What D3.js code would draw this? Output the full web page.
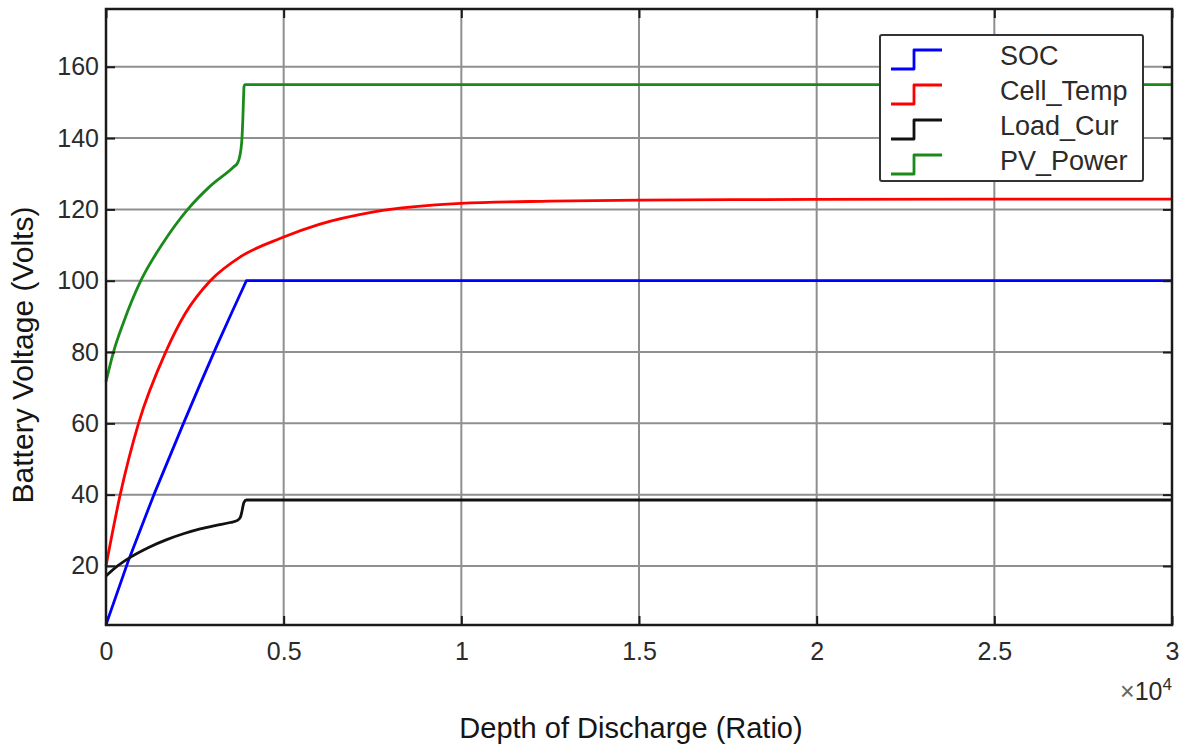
<!DOCTYPE html>
<html>
<head>
<meta charset="utf-8">
<script src="https://cdn.jsdelivr.net/npm/d3@7"></script>
<style>
  html, body { margin: 0; padding: 0; background: #fff; }
  svg { display: block; font-family: "Liberation Sans", Arial, sans-serif; }
</style>
</head>
<body>
<svg id="chart" width="1187" height="749"></svg>
<script>
// Series names and colours
const seriesNames = ["SOC", "Cell_Temp", "Load_Cur", "PV_Power"];
const seriesColors = ["#0000ff", "#ff0000", "#111111", "#1a8a1a"];

// Each series as [depth of discharge, volts]
const socData = [
  [0, 3.5], [630, 21.5], [1340, 39.8], [2180, 60], [2650, 71], [3120, 81.8],
  [3550, 91.3], [3950, 100], [30000, 100]
];
const cellTempData = [
  [0, 20], [400, 40], [915, 60], [1680, 80], [2230, 90.8], [2935, 100],
  [3780, 106.7], [4910, 111.9], [6000, 115.8], [7540, 119.3], [9980, 121.7],
  [12500, 122.3], [15000, 122.6], [20000, 122.8], [30000, 122.9]
];
const loadCurData = [
  [0, 17.2], [300, 19.8], [680, 22.4], [1200, 25.2], [1710, 27.4], [2200, 29.1],
  [2650, 30.4], [3100, 31.4], [3500, 32.2], [3700, 32.8], [3780, 33.6], [3830, 35.5],
  [3880, 37.8], [3950, 38.5], [30000, 38.5]
];
const pvPowerData = [
  [0, 71.7], [210, 80], [500, 88.5], [980, 100], [1600, 110.5], [2300, 120],
  [2940, 126.6], [3590, 131.9], [3700, 133], [3760, 134.7], [3820, 139],
  [3850, 145], [3870, 151], [3885, 154.5], [3910, 155], [30000, 155]
];
const allSeries = [socData, cellTempData, loadCurData, pvPowerData];

// Axis ticks
const xTicks = [0, 5000, 10000, 15000, 20000, 25000, 30000];
const xTickLabels = ["0", "0.5", "1", "1.5", "2", "2.5", "3"];
const yTicks = [20, 40, 60, 80, 100, 120, 140, 160];

const svg = d3.select("#chart");
const plot = { left: 106, right: 1172, top: 9, bottom: 625 };

const x = d3.scaleLinear().domain([0, 30000]).range([plot.left, plot.right]);
const y = d3.scaleLinear().domain([3.45, 176.2]).range([plot.bottom, plot.top]);

// Grid
const grid = svg.append("g").attr("stroke", "#8f8f8f").attr("stroke-width", 2);
grid.selectAll("line.gx").data(xTicks.slice(1, -1)).join("line")
  .attr("x1", d => x(d)).attr("x2", d => x(d))
  .attr("y1", plot.top).attr("y2", plot.bottom);
grid.selectAll("line.gy").data(yTicks).join("line")
  .attr("x1", plot.left).attr("x2", plot.right)
  .attr("y1", d => y(d)).attr("y2", d => y(d));

// Curves: SOC is a ramp with a sharp knee, the others are smooth
const smooth = d3.line().x(d => x(d[0])).y(d => y(d[1])).curve(d3.curveMonotoneX);
const straight = d3.line().x(d => x(d[0])).y(d => y(d[1]));
svg.append("g").selectAll("path").data(allSeries).join("path")
  .attr("d", (d, i) => i === 0 ? straight(d) : smooth(d))
  .attr("fill", "none")
  .attr("stroke", (d, i) => seriesColors[i])
  .attr("stroke-width", 2.8)
  .attr("stroke-linejoin", "round");

// Axes with inward ticks
const tickFont = 25;
const xAxis = d3.axisBottom(x).tickValues(xTicks)
  .tickFormat((d, i) => xTickLabels[i]).tickSizeInner(-9).tickSizeOuter(0).tickPadding(0);
const gx = svg.append("g").attr("transform", `translate(0,${plot.bottom})`).call(xAxis);
gx.selectAll("text").attr("y", 35).attr("dy", 0);

const yAxis = d3.axisLeft(y).tickValues(yTicks).tickSizeInner(-9).tickSizeOuter(0).tickPadding(7);
svg.append("g").attr("transform", `translate(${plot.left},0)`).call(yAxis);

const xAxisTop = d3.axisTop(x).tickValues(xTicks).tickFormat("").tickSizeInner(-9).tickSizeOuter(0);
svg.append("g").attr("transform", `translate(0,${plot.top})`).call(xAxisTop);
const yAxisRight = d3.axisRight(y).tickValues(yTicks).tickFormat("").tickSizeInner(-9).tickSizeOuter(0);
svg.append("g").attr("transform", `translate(${plot.right},0)`).call(yAxisRight);

svg.selectAll(".domain").remove();
svg.selectAll(".tick line").attr("stroke", "#1a1a1a").attr("stroke-width", 2);
svg.selectAll(".tick text").attr("fill", "#2b2b2b").attr("font-size", tickFont)
  .attr("font-family", "Liberation Sans, Arial, sans-serif");

// Frame
svg.append("rect")
  .attr("x", plot.left).attr("y", plot.top)
  .attr("width", plot.right - plot.left).attr("height", plot.bottom - plot.top)
  .attr("fill", "none").attr("stroke", "#1a1a1a").attr("stroke-width", 2.5);

// Exponent note
const expo = svg.append("text").attr("x", plot.right).attr("y", 700)
  .attr("text-anchor", "end").attr("fill", "#2b2b2b").attr("font-size", 25);
expo.append("tspan").text("×").attr("fill", "#666");
expo.append("tspan").text("10");
expo.append("tspan").text("4").attr("font-size", 17).attr("dy", -10);

// Axis titles
svg.append("text").attr("x", 631).attr("y", 738).attr("text-anchor", "middle")
  .attr("font-size", 29).attr("fill", "#151515").text("Depth of Discharge (Ratio)");
svg.append("text").attr("transform", "translate(33,355) rotate(-90)")
  .attr("text-anchor", "middle").attr("font-size", 30).attr("fill", "#151515")
  .text("Battery Voltage (Volts)");

// Legend
const legend = svg.append("g");
legend.append("rect").attr("x", 880).attr("y", 35).attr("width", 263).attr("height", 146)
  .attr("rx", 2).attr("fill", "#fff").attr("stroke", "#333").attr("stroke-width", 2);
const rows = legend.selectAll("g.row").data(seriesNames).join("g")
  .attr("transform", (d, i) => `translate(0,${65 + i * 35})`);
rows.append("path")
  .attr("d", "M891,4 H914 V-15 H942")
  .attr("fill", "none").attr("stroke", (d, i) => seriesColors[i]).attr("stroke-width", 2.8)
  .attr("stroke-linejoin", "round");
rows.append("text").attr("x", 1000).attr("y", 0).attr("font-size", 27)
  .attr("fill", "#2b2b2b").text(d => d);
</script>
</body>
</html>
